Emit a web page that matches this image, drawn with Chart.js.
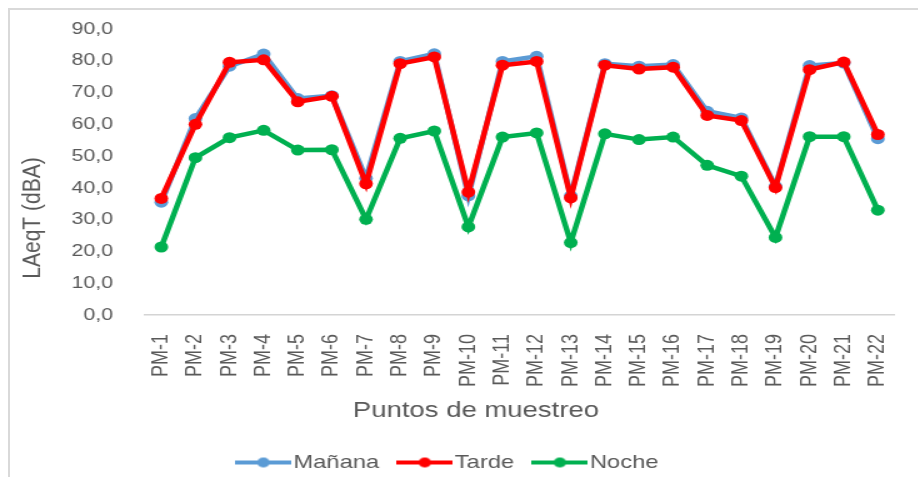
<!DOCTYPE html>
<html>
<head>
<meta charset="utf-8">
<script src="https://cdn.jsdelivr.net/npm/chart.js@4.4.1/dist/chart.umd.min.js"></script>
<style>
  html, body { margin: 0; padding: 0; background: #ffffff; overflow: hidden; width: 918px; height: 477px; }
  #frame { position: absolute; left: 8px; top: 8px; width: 1000px; height: 600px;
           border-top: 2px solid #d9d9d9; border-left: 2px solid #d9d9d9; }
  #c { position: absolute; left: 0; top: 0; transform-origin: 0 0;
       transform: translateX(-11.25px) scaleX(1.25); }
</style>
</head>
<body>
<div id="frame"></div>
<canvas id="c" width="744" height="482"></canvas>
<script>
const categories = ['PM-1','PM-2','PM-3','PM-4','PM-5','PM-6','PM-7','PM-8','PM-9','PM-10','PM-11',
                    'PM-12','PM-13','PM-14','PM-15','PM-16','PM-17','PM-18','PM-19','PM-20','PM-21','PM-22'];
const manana = [35.5, 61.8, 78.3, 82.1, 68.1, 69.0, 43.0, 79.8, 82.2, 37.5, 79.8,
                81.4, 37.5, 79.1, 78.3, 78.8, 64.1, 62.0, 40.5, 78.5, 79.3, 55.5];
const tarde  = [36.7, 60.0, 79.5, 80.3, 67.1, 68.8, 41.3, 79.1, 81.2, 38.7, 78.6,
                79.8, 36.9, 78.6, 77.4, 78.0, 62.8, 61.2, 40.1, 77.2, 79.6, 56.8];
const noche  = [21.4, 49.5, 55.8, 58.1, 51.9, 52.0, 30.1, 55.6, 57.9, 27.7, 56.0,
                57.3, 22.8, 57.0, 55.2, 56.0, 47.1, 43.7, 24.4, 56.1, 56.1, 33.0];
const yTickLabels = ['0,0','10,0','20,0','30,0','40,0','50,0','60,0','70,0','80,0','90,0'];
const seriesNames = ['Mañana', 'Tarde', 'Noche'];
const seriesColors = ['#5B9BD5', '#FF0000', '#00B050'];
const xTitle = 'Puntos de muestreo';
const yTitle = 'LAeqT (dBA)';

const FONT = '"Liberation Sans", Arial, sans-serif';
const TEXT = '#595959';

function legendImage(color) {
  const c = document.createElement('canvas');
  c.width = 45; c.height = 14;
  const g = c.getContext('2d');
  g.strokeStyle = color; g.lineWidth = 4;
  g.beginPath(); g.moveTo(0, 7); g.lineTo(45, 7); g.stroke();
  g.fillStyle = color;
  g.beginPath(); g.arc(22.5, 7, 5, 0, Math.PI * 2); g.fill();
  return c;
}

function ds(label, data, color, order) {
  return {
    label, data, order,
    borderColor: color, backgroundColor: color,
    pointBackgroundColor: color, pointBorderColor: color,
    borderWidth: 4.5, pointRadius: 5.5, pointBorderWidth: 0,
    tension: 0, fill: false
  };
}

const axisTitles = {
  id: 'axisTitles',
  afterDraw(chart) {
    const ctx = chart.ctx;
    ctx.save();
    ctx.fillStyle = TEXT;
    ctx.textAlign = 'center';
    ctx.textBaseline = 'middle';
    ctx.font = '22px ' + FONT;
    ctx.fillText(xTitle, 389.8, 411);
    ctx.translate(35.4, 218);
    ctx.rotate(-Math.PI / 2);
    ctx.font = '21px ' + FONT;
    ctx.fillText(yTitle, 0, 0);
    ctx.restore();
  }
};

new Chart(document.getElementById('c'), {
  type: 'line',
  data: {
    labels: categories,
    datasets: [
      ds(seriesNames[0], manana, seriesColors[0], 1),
      ds(seriesNames[1], tarde, seriesColors[1], 0),
      ds(seriesNames[2], noche, seriesColors[2], 2)
    ]
  },
  options: {
    responsive: false,
    animation: false,
    devicePixelRatio: 1,
    layout: { padding: { left: 0, right: 3, top: 29, bottom: 0 } },
    plugins: {
      tooltip: { enabled: false },
      title: { display: false },
      legend: {
        display: true,
        position: 'bottom',
        labels: {
          usePointStyle: true,
          pointStyleWidth: 29,
          padding: 22,
          color: TEXT,
          font: { family: FONT, size: 19 },
          generateLabels(chart) {
            return chart.data.datasets.map((d, i) => ({
              text: d.label,
              fillStyle: d.borderColor,
              strokeStyle: d.borderColor,
              lineWidth: 0,
              pointStyle: legendImage(d.borderColor),
              hidden: false,
              datasetIndex: i,
              fontColor: TEXT
            }));
          }
        }
      }
    },
    scales: {
      x: {
        type: 'category',
        offset: true,
        grid: { display: false, offset: true },
        border: { display: true, color: '#d4d4d4', width: 1.5 },
        ticks: {
          color: TEXT, minRotation: 90, maxRotation: 90, padding: 11,
          autoSkip: false, font: { family: FONT, size: 18 }
        },
        afterFit(scale) { scale.height = 116; }
      },
      y: {
        min: 0, max: 90,
        grid: { display: false },
        border: { display: false },
        ticks: {
          stepSize: 10, color: TEXT, padding: 17,
          font: { family: FONT, size: 17 },
          callback(value) { return yTickLabels[Math.round(value / 10)]; }
        },
        afterFit(scale) { scale.width = 124.4; }
      }
    }
  },
  plugins: [axisTitles]
});
</script>
</body>
</html>
